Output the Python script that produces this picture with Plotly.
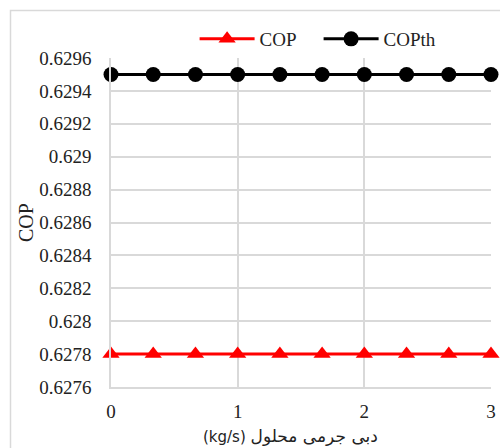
import plotly.graph_objects as go

x_vals = [0, 0.3333, 0.6667, 1, 1.3333, 1.6667, 2, 2.3333, 2.6667, 3]
cop = [0.6278] * 10
copth = [0.6295] * 10
y_ticks = [0.6276, 0.6278, 0.628, 0.6282, 0.6284, 0.6286, 0.6288, 0.629, 0.6292, 0.6294, 0.6296]
y_tick_text = ["0.6276", "0.6278", "0.628", "0.6282", "0.6284", "0.6286", "0.6288", "0.629", "0.6292", "0.6294", "0.6296"]
x_title_unit = "(kg/s)"
x_title_fa = "دبی جرمی محلول"

serif = "Liberation Serif"

fig = go.Figure()
fig.add_trace(go.Scatter(
    x=x_vals, y=cop, name="COP", mode="lines+markers",
    line=dict(color="#ff0000", width=3),
    marker=dict(symbol="triangle-up", size=15, color="#ff0000"),
    cliponaxis=False,
))
fig.add_trace(go.Scatter(
    x=x_vals, y=copth, name="COPth", mode="lines+markers",
    line=dict(color="#000000", width=3),
    marker=dict(symbol="circle", size=15, color="#000000"),
    cliponaxis=False,
))

L, R, T, B = 111, 9, 58, 61
W, H = 500, 448
pw, ph = W - L - R, H - T - B

fig.add_shape(type="rect", xref="paper", yref="paper",
              x0=(10.5 - L) / pw, x1=(520 - L) / pw,
              y0=(H - B - 470) / ph, y1=(H - B - 10.5) / ph,
              line=dict(color="#d9d9d9", width=1.5), layer="below")

fig.add_annotation(
    xref="paper", yref="paper", x=(290 - L) / pw, y=(H - B - 436) / ph,
    xanchor="center", yanchor="middle", showarrow=False,
    text=(x_title_unit + " "
          + '<span style="font-size:17px">' + x_title_fa + "</span>"),
    font=dict(family="DejaVu Sans", size=15, color="#222"),
)

fig.update_layout(
    width=W, height=H,
    margin=dict(l=L, r=R, t=T, b=B, autoexpand=False),
    paper_bgcolor="white", plot_bgcolor="white",
    font=dict(family=serif, size=19, color="#222"),
    showlegend=True,
    legend=dict(orientation="h", x=0.22, y=1.0, xanchor="left", yanchor="bottom",
                font=dict(family=serif, size=19, color="#222"),
                itemwidth=55, entrywidth=54, entrywidthmode="pixels",
                bgcolor="rgba(0,0,0,0)"),
    xaxis=dict(range=[0, 3], tickvals=[0, 1, 2, 3], ticktext=["0", "1", "2", "3"],
               showgrid=True, gridcolor="#d9d9d9", gridwidth=1.5,
               showline=True, linecolor="#d9d9d9", linewidth=1.5,
               zeroline=False, ticks="", ticklabelstandoff=6,
               tickfont=dict(family=serif, size=19)),
    yaxis=dict(range=[0.6276, 0.6296], tickvals=y_ticks, ticktext=y_tick_text,
               showgrid=True, gridcolor="#d9d9d9", gridwidth=1.5,
               showline=True, linecolor="#d9d9d9", linewidth=1.5,
               zeroline=False, ticks="", ticklabelstandoff=14,
               tickfont=dict(family=serif, size=19),
               title=dict(text="COP", font=dict(family=serif, size=20), standoff=0)),
)

fig.write_html("out.html")
